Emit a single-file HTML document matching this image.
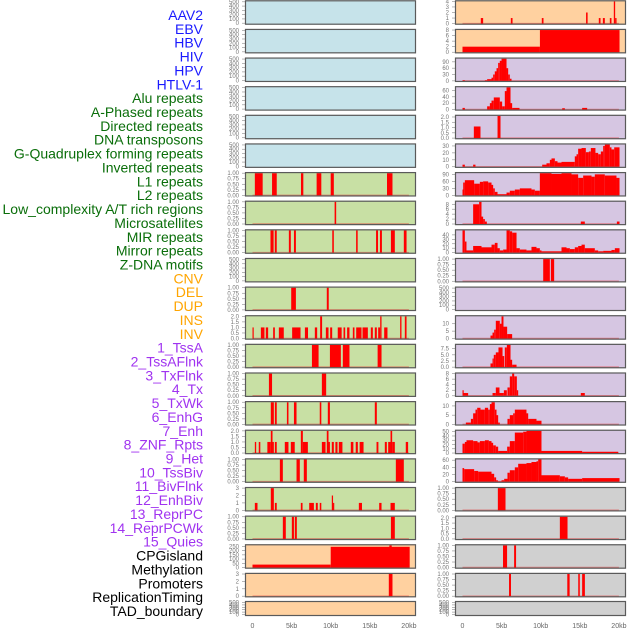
<!DOCTYPE html>
<html><head><meta charset="utf-8"><style>
html,body{margin:0;padding:0;background:#fff;width:630px;height:630px;overflow:hidden}
svg{display:block;font-family:"Liberation Sans",sans-serif}
</style></head><body>
<svg id="c" width="630" height="630"></svg>
<script>
const trackLabels=["AAV2","EBV","HBV","HIV","HPV","HTLV-1","Alu repeats","A-Phased repeats","Directed repeats","DNA transposons","G-Quadruplex forming repeats","Inverted repeats","L1 repeats","L2 repeats","Low_complexity A/T rich regions","Microsatellites","MIR repeats","Mirror repeats","Z-DNA motifs","CNV","DEL","DUP","INS","INV","1_TssA","2_TssAFlnk","3_TxFlnk","4_Tx","5_TxWk","6_EnhG","7_Enh","8_ZNF_Rpts","9_Het","10_TssBiv","11_BivFlnk","12_EnhBiv","13_ReprPC","14_ReprPCWk","15_Quies","CPGisland","Methylation","Promoters","ReplicationTiming","TAD_boundary"];
const labelGroups=[6,13,5,15,5];
const groupColors=["#1a1aff","#0a6e0a","#ffa500","#a033f0","#000000"];
const xTicks=[0,5,10,15,20];
const xTickLabels=["0","5kb","10kb","15kb","20kb"];
const T500=[0,100,200,300,400,500], T1=[0,0.25,0.5,0.75,1], T2=[0,0.5,1,1.5,2], T3=[0,1,2,3];
const leftTicks=[T500,T500,T500,T500,T500,T500,T1,T1,T1,T500,T1,T2,T1,T1,T1,T2,T1,T3,T1,[0,50,100,150,200,250],T3,T500];
const rightTicks=[[0,1,2,3,4],[0,2,4,6,8],[0,30,60,90],[0,20,40,60],T2,[0,10,20,30],[0,30,60,90],[0,2,4,6,8],[0,10,20,30,40],T1,T500,[0,5,10],[0,2.5,5,7.5],[0,2,4,6,8],[0,5,10],[0,10,20,30,40,50],[0,20,40,60],T1,T2,T1,T1,T500];
const leftBg=["#c6e3ea","#c6e3ea","#c6e3ea","#c6e3ea","#c6e3ea","#c6e3ea","#c8e0a4","#c8e0a4","#c8e0a4","#c8e0a4","#c8e0a4","#c8e0a4","#c8e0a4","#c8e0a4","#c8e0a4","#c8e0a4","#c8e0a4","#c8e0a4","#c8e0a4","#ffd1a0","#ffd1a0","#ffd1a0"];
const rightBg=["#ffd1a0","#ffd1a0","#d6c6e2","#d6c6e2","#d6c6e2","#d6c6e2","#d6c6e2","#d6c6e2","#d6c6e2","#d6c6e2","#d6c6e2","#d6c6e2","#d6c6e2","#d6c6e2","#d6c6e2","#d6c6e2","#d6c6e2","#d0d0d0","#d0d0d0","#d0d0d0","#d0d0d0","#d0d0d0"];
const leftData=[null,null,null,null,null,null,
[[0.3,1.3,1],[2.5,3.1,1],[6.2,6.5,1],[8.2,8.8,1],[10.0,10.4,1],[17.2,17.9,1]],
[[10.5,10.7,1]],
[[2.3,2.7,1],[2.85,3.1,1],[4.65,4.9,1],[5.3,5.55,1],[10.2,10.4,1],[13.25,13.45,1],[15.8,16.05,1],[16.3,16.55,1],[17.7,18.2,1],[19.35,19.7,1]],
null,
[[4.95,5.55,1],[9.5,9.75,1]],
[[0,0.13,1],[1.07,1.53,1],[1.7,2.0,1],[2.64,2.86,1],[3.37,4.0,1],[5.07,6.14,1],[6.7,7.1,1],[7.97,8.27,1],[8.65,8.9,2],[9.38,9.72,1],[9.93,10.19,1],[10.9,11.4,1],[11.64,11.85,1],[12.1,12.4,1],[12.83,13.04,1],[13.26,13.94,1],[14.07,14.75,1],[15.13,15.39,1],[15.64,15.9,1],[16.07,16.33,1],[16.33,16.5,2],[16.84,17.26,1],[18.88,19.05,2],[19.48,19.7,2]],
[[7.6,8.45,1],[9.9,11.3,1],[11.55,12.4,1],[16.0,16.5,1]],
[[2.1,2.5,1],[8.87,9.42,1]],
[[2.34,2.73,1],[2.86,3.1,1],[4.4,4.6,1],[5.3,5.63,1],[8.6,8.8,1],[9.63,9.9,1],[15.64,15.9,1]],
[[0.3,0.47,1],[0.8,1.0,1],[1.9,2.34,1],[2.34,2.56,2],[2.56,2.73,1],[2.86,3.1,1],[4.13,4.6,1],[4.9,5.4,1],[6.18,6.44,2],[6.44,7.08,1],[8.87,9.34,1],[9.5,9.72,2],[9.72,9.9,1],[10.14,10.4,1],[10.6,10.87,1],[11.04,11.5,1],[12.57,12.9,1],[13.2,13.47,1],[13.7,14.2,1],[15.86,16.1,1],[16.92,17.18,1],[17.35,17.65,1],[17.65,17.86,2],[17.86,18.2,1],[19.6,19.9,1]],
[[3.5,3.88,1],[5.63,6.05,1],[6.56,6.95,1],[18.33,19.35,1]],
[[0.3,0.64,1],[2.34,2.73,3],[2.86,3.1,1],[6.18,6.4,1],[7.25,7.85,1],[8.1,8.35,1],[8.6,8.8,1],[10.14,10.3,2],[10.3,10.4,1],[13.6,14.0,1],[16.2,16.5,1],[17.65,18.2,1]],
[[3.88,4.26,1],[5.03,5.3,1],[5.41,5.67,1],[17.7,18.2,1]],
[[0,10,35],[10,20.1,245],[17.5,17.8,262]],
[[17.43,17.9,3]],
null];
const rightData=[
[[2.34,2.64,1],[6.18,6.4,1],[10.14,10.36,1],[15.8,16.0,2],[17.43,17.65,1],[17.95,18.2,1],[18.84,19.05,1],[19.35,19.52,4],[19.52,19.7,1]],
[[0,9.9,2],[9.9,20.08,8]],
[[0,0.3,3],[2.86,3.15,3],[3.15,3.71,8],[3.71,3.92,15],[3.92,4.13,30],[4.13,4.35,45],[4.35,4.56,60],[4.56,4.77,85],[4.77,4.99,95],[4.99,5.63,105],[5.63,5.84,60],[5.84,6.05,30],[6.05,6.27,10]],
[[0,0.3,5],[3.15,3.5,10],[3.5,3.71,20],[3.71,4.0,28],[4.0,4.77,38],[4.77,5.07,25],[5.07,5.41,10],[5.41,5.63,58],[5.63,6.14,70],[6.14,6.35,20],[6.35,7.29,5],[12.75,13.09,4],[15.3,15.94,5]],
[[1.45,2.3,1.1],[4.48,4.86,2.1]],
[[0,0.3,3],[1.36,1.66,3],[10.19,10.74,3],[10.74,11.17,5],[11.17,11.38,10],[11.38,11.81,12],[11.81,12.15,8],[12.15,12.66,6],[12.66,14.36,7],[14.36,14.58,15],[14.58,14.79,18],[14.79,15.22,26],[15.22,15.77,27],[15.77,16.16,21],[16.16,16.41,22],[16.41,17.0,27],[17.0,17.35,20],[17.35,17.69,18],[17.69,17.99,22],[17.99,18.2,30],[18.2,18.84,32],[18.84,19.05,28],[19.05,19.4,25],[19.4,20.08,28]],
[[0,0.09,25],[0.09,0.3,55],[0.3,1.49,65],[1.49,2.22,50],[2.22,2.64,58],[2.64,3.28,60],[3.28,3.71,55],[3.71,3.92,45],[3.92,4.13,30],[4.13,4.48,15],[4.48,5.63,5],[5.63,6.05,12],[6.05,6.69,20],[6.69,7.33,25],[7.33,8.82,30],[8.82,9.25,25],[9.25,9.89,20],[9.89,11.38,95],[11.38,12.66,92],[12.66,13.94,95],[13.94,14.79,90],[14.79,15.43,75],[15.43,16.5,85],[16.5,16.92,80],[16.92,18.2,90],[18.2,19.69,85],[19.69,20.08,75]],
[[1.36,2.13,8],[2.13,2.43,9],[2.43,2.64,3],[2.64,2.86,2],[2.86,3.11,1],[15.13,15.64,1],[19.74,20.08,1]],
[[0,0.3,50],[0.3,0.51,25],[0.51,1.36,5],[1.36,2.43,15],[2.43,3.71,12],[3.71,4.13,18],[4.13,4.48,22],[4.48,4.77,10],[4.77,5.2,5],[5.2,5.63,7],[5.63,6.05,50],[6.05,6.35,48],[6.35,6.91,45],[6.91,7.33,10],[7.33,8.18,7],[8.18,8.82,5],[8.82,9.46,13],[9.46,9.89,10],[9.89,10.1,5],[10.1,12.66,3],[12.66,13.3,12],[13.3,13.73,10],[13.73,14.36,8],[14.36,14.79,12],[14.79,15.22,15],[15.22,15.64,18],[15.64,16.92,10],[16.92,17.35,5],[17.35,17.99,3],[17.99,19.05,4],[19.05,19.48,6],[19.48,20.08,10]],
[[10.32,11.17,1],[11.3,11.72,1]],
null,
[[3.58,3.84,2],[3.84,4.05,4],[4.05,4.26,6],[4.26,4.77,12],[4.77,4.99,10],[4.99,5.24,15],[5.24,5.71,8],[5.71,6.35,3]],
[[3.58,3.84,1.5],[3.84,4.0,3.5],[4.0,4.26,5],[4.26,4.6,6],[4.6,5.12,8],[5.12,5.33,4.5],[5.41,5.67,8],[5.67,6.14,9],[6.14,6.35,3],[6.35,6.91,1]],
[[0,0.09,2],[0.09,0.72,1],[3.84,4.26,1],[4.26,4.73,3],[4.73,5.29,1],[5.29,5.67,2],[5.75,6.05,3],[6.05,6.35,7],[6.35,6.61,8],[6.61,6.95,7],[6.95,7.12,2],[15.13,15.64,1]],
[[0.43,1.07,1],[1.07,1.36,3],[1.36,1.66,6],[1.66,1.88,8],[1.88,2.3,9],[2.3,2.86,8],[2.86,3.28,9],[3.28,3.5,8],[3.5,3.71,11],[3.71,4.13,12],[4.13,4.35,8],[4.35,4.56,5],[4.56,4.77,1],[5.75,6.05,3],[6.05,6.48,5],[6.48,6.69,6],[6.69,8.18,8],[8.18,8.4,6],[8.4,9.46,3],[9.46,10.1,2]],
[[0,0.3,22],[0.3,0.51,26],[0.51,1.36,30],[1.36,1.92,28],[1.92,2.22,25],[2.22,2.86,28],[2.86,3.37,30],[3.37,3.71,28],[3.71,3.92,24],[3.92,4.26,18],[4.26,4.56,15],[4.56,5.71,5],[5.71,6.05,15],[6.05,6.69,28],[6.69,7.76,48],[7.76,8.18,50],[8.18,10.1,52],[10.1,15.3,5],[15.3,19.9,3]],
[[0,0.21,38],[0.21,1.49,35],[1.49,2.0,30],[2.0,3.71,28],[3.71,4.05,22],[4.05,4.3,12],[4.3,4.52,4],[4.52,4.99,1],[4.99,5.33,4],[5.33,5.75,8],[5.75,6.05,25],[6.05,6.69,32],[6.69,7.12,40],[7.12,8.18,50],[8.18,8.82,52],[8.82,9.46,55],[9.46,9.68,57],[9.68,10.1,62],[10.1,12.45,18],[12.45,13.09,15],[13.09,13.51,12],[13.51,15.3,8],[15.3,20.08,10]],
[[4.52,5.5,1]],
[[12.45,13.43,2.1]],
[[5.18,5.7,1],[6.6,6.85,1]],
[[5.95,6.2,1],[13.4,13.7,1],[14.8,15.0,1],[15.3,15.65,1]],
null];

const NS="http://www.w3.org/2000/svg";
const svg=document.getElementById('c');
function mk(tag,attrs,parent){const e=document.createElementNS(NS,tag);for(const k in attrs)e.setAttribute(k,attrs[k]);(parent||svg).appendChild(e);return e;}

// labels
let li=0;
labelGroups.forEach((n,g)=>{for(let k=0;k<n;k++){const t=mk('text',{x:203,y:15+li*13.86+5,'text-anchor':'end','font-size':14,fill:groupColors[g]});t.textContent=trackLabels[li];

li++;}});

const PX_PER_KB=7.82;
const cols=[{x0:245,x1:416,zero:252.5,ticks:leftTicks,bg:leftBg,data:leftData,name:'left'},{x0:455,x1:626,zero:462.5,ticks:rightTicks,bg:rightBg,data:rightData,name:'right'}];
function rowBox(i){if(i===21)return{top:601,bot:616};const bot=24.7+28.63*i;return{top:bot-24.4,bot:bot};}
function fmt(v,ticks){const needs2=ticks.some(t=>Math.abs(t*4-Math.round(t*4))<1e-9&&t%0.5!==0);const needs1=ticks.some(t=>t%1!==0);if(needs2)return v.toFixed(2);if(needs1)return v.toFixed(1);return String(v);}

cols.forEach(col=>{
  const xs=kb=>col.zero+kb*PX_PER_KB;
  for(let i=0;i<22;i++){
    const b=rowBox(i),H=b.bot-b.top;
    const g=mk('g',{});
    
    
    mk('rect',{x:col.x0,y:b.top,width:col.x1-col.x0,height:H,fill:col.bg[i]},g);
    const ticks=col.ticks[i],data=col.data[i];
    let M=ticks[ticks.length-1];
    if(data){M=Math.max(...data.map(d=>d[2]));}
    const lo=-0.05*M,hi=1.05*M;
    const ys=v=>b.bot-(v-lo)/(hi-lo)*H;
    const tmax=ticks[ticks.length-1];
    const ysT=data?ys:(v=>b.bot-1.5-(v/tmax)*(H-3));
    ticks.forEach(t=>{const yy=ysT(t);if(yy<b.top-2)return;
      const tx=mk('text',{x:col.x0-6,y:yy+2,'text-anchor':'end','font-size':6,fill:'#777'},g);tx.textContent=fmt(t,ticks);
      
      
      mk('line',{x1:col.x0-3,x2:col.x0,y1:yy,y2:yy,stroke:'#888','stroke-width':0.6},g);});
    if(data){
      mk('line',{x1:xs(0),x2:xs(20),y1:ys(0),y2:ys(0),stroke:'#e03030','stroke-width':1.5,'stroke-opacity':0.5},g);
      data.forEach(d=>{const y0=ys(0),y1=Math.max(ys(d[2]),b.top);
        const r=mk('rect',{x:xs(d[0]),y:y1,width:Math.max(xs(d[1])-xs(d[0]),1.2),height:y0-y1,fill:'#ff0000'},g);
        
        });
    }
    mk('rect',{x:col.x0+0.5,y:b.top+0.5,width:col.x1-col.x0-1,height:H-1,fill:'none',stroke:'#5a5a5a','stroke-width':1.2},g);
  }
  xTicks.forEach((t,k)=>{const tx=mk('text',{x:xs(t),y:628,'text-anchor':'middle','font-size':7,fill:'#666'});tx.textContent=xTickLabels[k];
    
    });
});
</script>
</body></html>
